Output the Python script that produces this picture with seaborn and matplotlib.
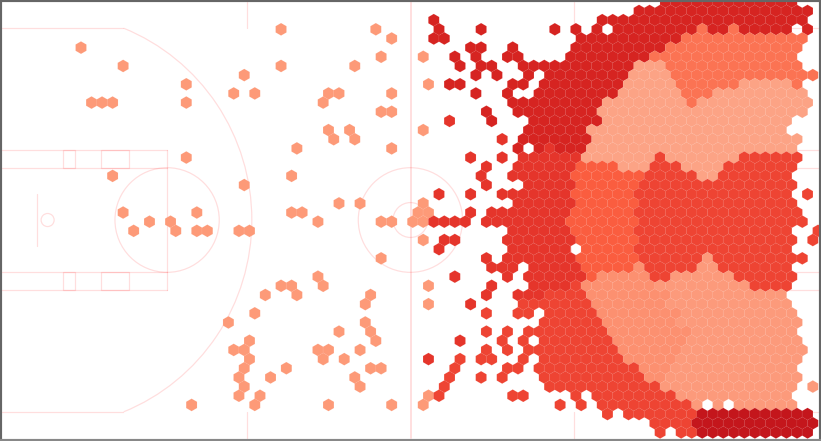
import numpy as np
import pandas as pd
import seaborn as sns
import matplotlib.pyplot as plt
from matplotlib.patches import Arc, Circle, Rectangle

# shot zone level of every hex bin, one string per bin row, top to bottom
# '.' = no shots. blocks of ten bins only to keep it readable
D = ".........."
bin_rows = [
    f"{D} {D} {D} {D} {D} {D} ..jjjjjjjj jjjjj...",
    f"{D} {D} {D} {D} {D} {D} jjjjjjjjjj jjjjjjj.",
    f"{D} {D} {D} {D} j......... ......jjjj jjjjjjjjjj jjjjjj..",
    f"{D} {D} ......a... .....a.... .j...j.... ..j.j.j.jj jjjjjjejje jjjjj.j.",
    f"{D} {D} {D} ......a... jj........ ....jjjjjj jjjjeeeeee eeeeee..",
    f".......a.. {D} {D} {D} ....jj..j. ....jjjjjj jjjeeeeeee eeeeee..",
    f"{D} {D} {D} .....a...a ..j.j..jj. ...jjjjjjj jeeeeeeeee eeeee...",
    f"{D} .a........ ......a... ...a...... ...j.jj..j jjjjjjjjjj bbbeeeeeee eeeeee..",
    f"{D} {D} ..a....... {D} ....j.j..j .jjjjjjjjb bbbeeeeeee eeeeeee.",
    f"{D} .......a.. {D} {D} a.jj....jj .jjjjjjjjb bbbbeeeeee bbbbbe..",
    f"{D} {D} .a.a...... aa....a... ....j..j.. jjjjjjjjbb bbbbeeebbb bbbbbb..",
    f"........aa a......a.. {D} a......... ........jj jjjjjjjbbb bbbbbebbbb bbbbbbb.",
    f"{D} {D} {D} .....aa... .....j..jj jjjjjjbbbb bbbbbbbbbb bbbbbb..",
    f"{D} {D} {D} {D} ..h...j... jjjjjjjbbb bbbbbbbbbb bbbbb...",
    f"{D} {D} {D} a.a......a .........j jjjjjbbbbb bbbbbbbbbb bbbb....",
    f"{D} {D} {D} .a.a...... .......h.j jjjjjjbbbb bbbbbbbbbb bbbbbb..",
    f"{D} {D} .......a.. ......a... ........j. jhjjjbbbbb bbbbbbbbbb bbbbb...",
    f"{D} .......a.. {D} {D} ....h..h.h hhhhhbbbbb bbgbbbbbbb gggggg..",
    f"{D} {D} {D} {D} .....h..hh hhhhffffbb bgggbbbbgg ggggg...",
    f"{D} a......... .......a.. {D} .....h..hh hhhhffffff fgggggbbgg ggggg...",
    f"{D} {D} ..a....... {D} .....h...h hhhhffffff gggggggggg ggggg...",
    f"{D} {D} {D} {D} .h..h..hhh hhhhffffff gggggggggg ggggg.g.",
    f"{D} {D} {D} .a.a.....a ........hh hhhhffffff gggggggggg ggggg...",
    f"{D} .a......a. .......aa. .........a a...h.hhhh hhhhffffff gggggggggg gggggg..",
    f"{D} ...a.a.... .........a .....aa.aa hhhh.hhhhh hhhfffffff gggggggggg gggggg..",
    f"{D} ..a...a.aa ..aa...... {D} ........hh hhhhffffff gggggggggg ggggg..g",
    f"{D} {D} {D} .........a .hh....hhh hhhhffffff gggggggggg ggggg.g.",
    f"{D} {D} {D} {D} .h......hh hhhh.fffff gggggggggg ggggg...",
    f"{D} {D} {D} .....a.... .....h.hhh hhhhffffff ggggggcggg gggggg..",
    f"{D} {D} {D} {D} ......hhh. hhhhhfffff dgggggccgg ggggg...",
    f"{D} {D} .........a {D} ..h....h.h hhhhhfdddd dggccccccg ggggg...",
    f"{D} {D} ......aa.. a......... a.....h... hhhhgddddd ddcccccccc cgggg...",
    f"{D} {D} ....a..a.. ....a..... .....h..hh hggggddddd dddccccccc cccc....",
    f"{D} {D} {D} ....a..... a...h....g ggggggdddd dddccccccc ccccc...",
    f"{D} {D} ...a...... {D} .....g..gg .gggggdddd ddddcccccc ccccc...",
    f"{D} {D} .a........ ....a..... {D} .ggggggddd ddddcccccc cccccc..",
    f"{D} {D} {D} .a..a..... .....g.g.g gggggggddd dddddccccc ccccc...",
    f"{D} {D} ...a...... .....a.... ...h...g.g .gggggggdd dddddccccc cccccc..",
    f"{D} {D} .aa......a a..a...... .....g.g.g ggggggggdd ddddcccccc cccccc..",
    f"{D} {D} ...a...... a.a....... h..g.gg..g .ggggggggd ddddcccccc cccccc..",
    f"{D} {D} ..a...a... ....aa.... ..g....gg. gggggggggg dddccccccc ccccc...",
    f"{D} {D} ..a..a.... ...a...... ..g..g.g.. .ggggggggg gddccccccc cccccc..",
    f"{D} {D} ..a....... ...a...... .g........ .ggggggggg ggcccccccc ccccc.c.",
    f"{D} {D} ..a.a..... {D} ag......gg ....g.gggg ggggcccccc ccccc...",
    f"{D} .......a.. ...a...... a.....a..a {D} ..g.g.gggg gggggc.c.c ccccc...",
    f"{D} {D} {D} {D} {D} .......g.g ggggggkkkk kkkkkkk.",
    f"{D} {D} {D} {D} {D} {D} .ggggkkkkk kkkkkkk.",
    f"{D} {D} {D} {D} {D} {D} ..g.ggkkkk kkkkkkk.",
]

level_colors = {
    "a": "#fd9a78", "b": "#fca385", "c": "#fc9a7b", "d": "#fc9070",
    "e": "#fb7353", "f": "#fa5d3f", "g": "#ee4433", "h": "#e5352b",
    "j": "#d62421", "k": "#c4161c",
}

bin_w = 1.2117
bin_h = 1.0505

recs = []
for r, row in enumerate(bin_rows):
    row = row.replace(" ", "")
    for c, lev in enumerate(row):
        if lev != ".":
            shift = 0.61 if r % 2 else 1.22
            recs.append((shift + c * bin_w, -0.02 + r * bin_h, lev))
df = pd.DataFrame(recs, columns=["x", "y", "level"])

sns.set_theme(style="white")
fig = plt.figure(figsize=(8.21, 4.41), dpi=100)
ax = fig.add_axes([0, 0, 1, 1])


def court(ax):
    kw = dict(color="red", alpha=0.13, lw=0.9, zorder=1)
    pk = dict(fill=False, ec=(1, 0, 0, 0.13), lw=0.9, zorder=1)
    ax.plot([47.05, 47.05], [0, 50], color="red", alpha=0.13, lw=1.4, zorder=1)
    ax.add_patch(Circle((47, 25), 6, **pk))
    ax.add_patch(Circle((47, 25), 2, **pk))
    for mirror in (False, True):
        fx = (lambda v: 94 - v) if mirror else (lambda v: v)
        ax.plot([fx(0), fx(13.93)], [3, 3], **kw)
        ax.plot([fx(0), fx(13.93)], [47, 47], **kw)
        ax.plot([fx(28.2), fx(28.2)], [0, 3], **kw)
        ax.plot([fx(28.2), fx(28.2)], [47, 50], **kw)
        ax.plot([fx(0), fx(19)], [17, 17], **kw)
        ax.plot([fx(0), fx(19)], [19, 19], **kw)
        ax.plot([fx(0), fx(19)], [31, 31], **kw)
        ax.plot([fx(0), fx(19)], [33, 33], **kw)
        ax.plot([fx(19), fx(19)], [17, 33], **kw)
        ax.plot([fx(4), fx(4)], [22, 28], **kw)
        ax.add_patch(Circle((fx(5.25), 25), 0.75, **pk))
        ax.add_patch(Circle((fx(19), 25), 6, **pk))
        for a, b in ((7.05, 8.37), (11.4, 14.65)):
            left = min(fx(a), fx(b))
            ax.add_patch(Rectangle((left, 17), b - a, 2, **pk))
            ax.add_patch(Rectangle((left, 31), b - a, 2, **pk))
        t = 180 if mirror else 0
        ax.add_patch(Arc((fx(5.25), 25), 47, 47.4, theta1=t - 68.3, theta2=t + 68.3,
                         ec=(1, 0, 0, 0.13), lw=0.9, zorder=1))


court(ax)

sns.scatterplot(data=df, x="x", y="y", hue="level", palette=level_colors,
                marker="h", s=82, linewidth=0.3, edgecolor=(1, 1, 1, 0.22),
                legend=False, zorder=3, ax=ax)

ax.set_xlim(-0.23, 94.25)
ax.set_ylim(50.34, -0.23)
ax.set_xticks([])
ax.set_yticks([])
ax.set_xlabel("")
ax.set_ylabel("")
for s in ax.spines.values():
    s.set_visible(True)
    s.set_color("#666666")
    s.set_linewidth(3)
    s.set_zorder(5)
ax.spines["bottom"].set_color("#888888")

fig.savefig("out.png", dpi=100)
